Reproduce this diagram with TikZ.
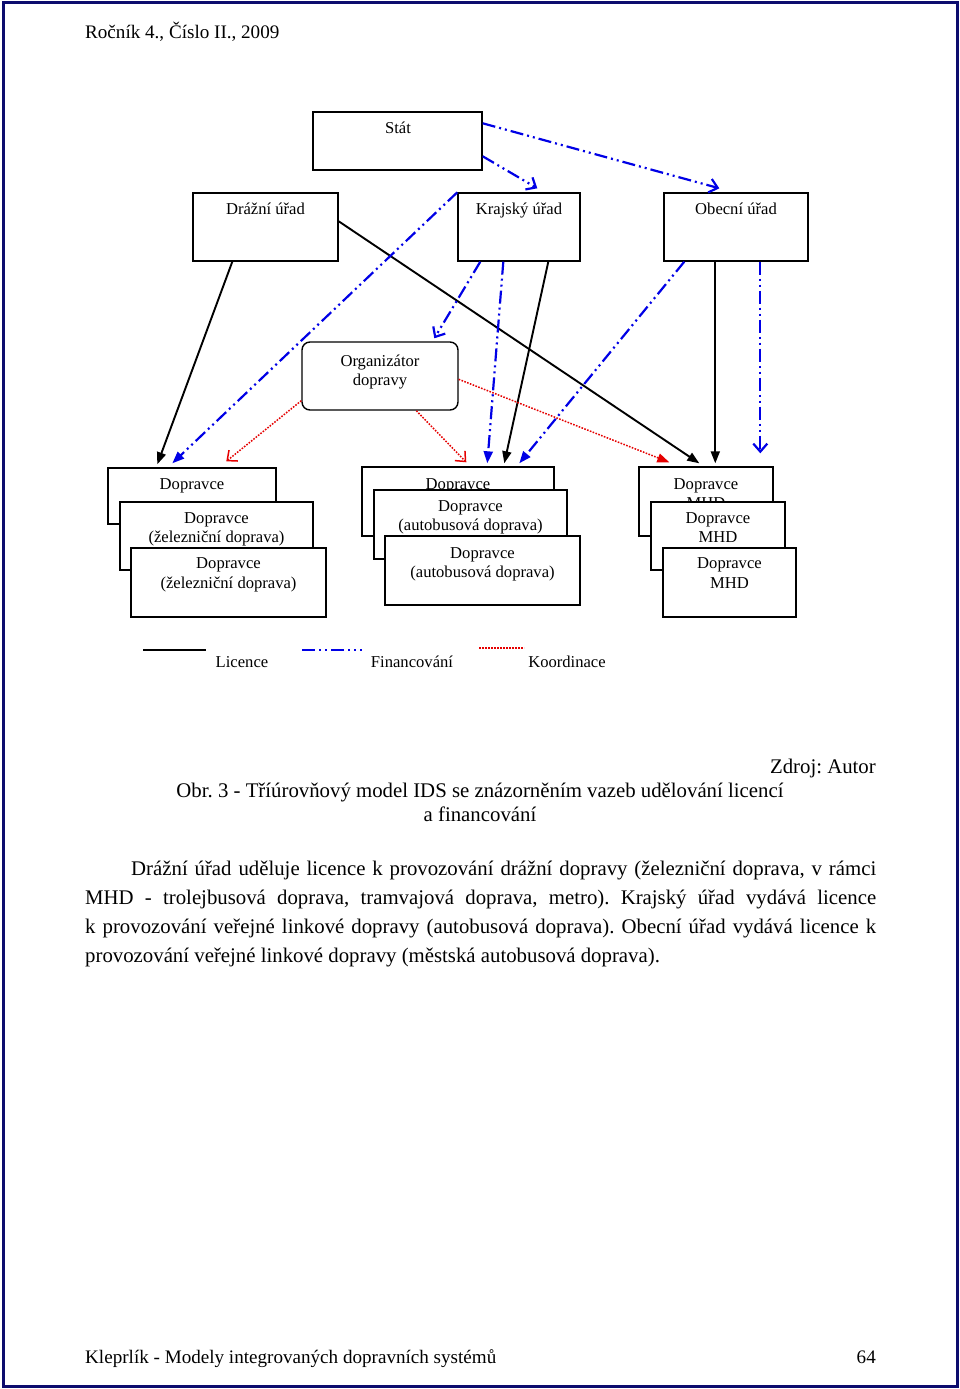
\documentclass[tikz,border=0pt]{standalone}
\usepackage{fontspec}
\setmainfont{Liberation Serif}
\usetikzlibrary{arrows.meta}
\definecolor{navyb}{RGB}{12,12,110}
\definecolor{finblue}{RGB}{0,0,230}
\definecolor{korred}{RGB}{230,0,0}
\frenchspacing
\begin{document}
\begin{tikzpicture}[x=1pt,y=-1pt,
  box/.style={draw=black, line width=1.4pt, fill=white, rectangle, inner sep=0pt},
  lbl/.style={font=\fontsize{16.6}{19}\selectfont, anchor=base, inner sep=0pt},
  page/.style={font=\fontsize{19.1}{22}\selectfont, inner sep=0pt},
  body/.style={font=\fontsize{20.8}{29}\selectfont, inner sep=0pt},
  lic/.style={draw=black, line width=1.9pt},
  licF/.style={lic, -{Triangle[length=12pt,width=9pt]}},
  fin/.style={draw=finblue, line width=2.2pt, dash pattern=on 13pt off 4pt on 2pt off 4pt on 2pt off 4pt},
  finF/.style={fin, -{Triangle[length=12pt,width=9pt]}},
  finO/.style={fin, -{Straight Barb[length=8pt,width=14pt]}},
  kor/.style={draw=korred, line width=1.5pt, dash pattern=on 1.6pt off 1.4pt},
  korF/.style={kor, -{Triangle[length=12pt,width=9pt]}},
  korO/.style={kor, -{Straight Barb[length=8pt,width=14pt]}}]
\useasboundingbox (0,0) rectangle (960,1389);
\fill[white] (0,0) rectangle (960,1389);
\draw[navyb, line width=3pt] (3,3) rectangle (957,1386);

% header / footer
\node[page, anchor=base west] (hdr) at (85,39) {Ročník 4., Číslo II., 2009};
\node[page, anchor=base west] (ftr) at (85,1363) {Kleprlík - Modely integrovaných dopravních systémů};
\node[page, anchor=base east] (pg) at (876,1363) {64};

% top level
\node[box, minimum width=169pt, minimum height=58pt] (stat) at (397.5,141) {};
\node[lbl] (statT) at (398,133) {Stát};
\node[box, minimum width=145pt, minimum height=68pt] (dr) at (265.5,227) {};
\node[lbl] (drT) at (265.5,214) {Drážní úřad};
\node[box, minimum width=122pt, minimum height=68pt] (kr) at (519,227) {};
\node[lbl] (krT) at (519,214) {Krajský úřad};
\node[box, minimum width=144pt, minimum height=68pt] (ob) at (736,227) {};
\node[lbl] (obT) at (736,214) {Obecní úřad};
\node[box, rounded corners=8pt, minimum width=156pt, minimum height=68pt] (org) at (380,376) {};
\node[lbl] (orgT1) at (380,366) {Organizátor};
\node[lbl] (orgT2) at (380,385) {dopravy};

% group 1
\node[box, minimum width=168pt, minimum height=56pt] (g1a) at (192,496) {};
\node[lbl] (g1aT) at (192,489) {Dopravce};
\node[box, minimum width=193pt, minimum height=68pt] (g1b) at (216.5,536) {};
\node[lbl] (g1bT1) at (216.5,523) {Dopravce};
\node[lbl] (g1bT2) at (216.5,542) {(železniční doprava)};
\node[box, minimum width=195pt, minimum height=69pt] (g1c) at (228.5,582.5) {};
\node[lbl] (g1cT1) at (228.5,568) {Dopravce};
\node[lbl] (g1cT2) at (228.5,588) {(železniční doprava)};

% group 2
\node[box, minimum width=192pt, minimum height=69pt] (g2a) at (458,501.5) {};
\node[lbl] (g2aT) at (458,489) {Dopravce};
\node[box, minimum width=193pt, minimum height=69pt] (g2b) at (470.5,524.5) {};
\node[lbl] (g2bT1) at (470.5,511) {Dopravce};
\node[lbl] (g2bT2) at (470.5,530) {(autobusová doprava)};
\node[box, minimum width=195pt, minimum height=69pt] (g2c) at (482.5,570.5) {};
\node[lbl] (g2cT1) at (482.5,558) {Dopravce};
\node[lbl] (g2cT2) at (482.5,577) {(autobusová doprava)};

% group 3
\node[box, minimum width=134pt, minimum height=69pt] (g3a) at (706,501.5) {};
\node[lbl] (g3aT1) at (706,489) {Dopravce};
\node[lbl] (g3aT2) at (706,508) {MHD};
\node[box, minimum width=134pt, minimum height=68pt] (g3b) at (718,536) {};
\node[lbl] (g3bT1) at (718,523) {Dopravce};
\node[lbl] (g3bT2) at (718,542) {MHD};
\node[box, minimum width=133pt, minimum height=69pt] (g3c) at (729.5,582.5) {};
\node[lbl] (g3cT1) at (729.5,568) {Dopravce};
\node[lbl] (g3cT2) at (729.5,588) {MHD};

% Licence
\draw[licF] ([xshift=40pt]dr.south west) -- ([xshift=50pt,yshift=3pt]g1a.north west);
\draw[licF] ([yshift=-29pt]dr.north east) -- ([xshift=61pt,yshift=3pt]g3a.north west);
\draw[licF] ([xshift=91pt]kr.south west) -- ([xshift=143pt,yshift=3pt]g2a.north west);
\draw[licF] ([xshift=52pt]ob.south west) -- ([xshift=77pt,yshift=3pt]g3a.north west);

% Financovani
\draw[finO] ([yshift=-12pt]stat.north east) -- ([xshift=56pt,yshift=4pt]ob.north west);
\draw[finO] ([yshift=-45pt]stat.north east) -- ([xshift=80pt,yshift=4pt]kr.north west);
\draw[finF] (kr.north west) -- ([xshift=65pt,yshift=4pt]g1a.north west);
\draw[finO] ([xshift=23pt]kr.south west) -- ([xshift=133pt,yshift=3pt]org.north west);
\draw[finF] ([xshift=46pt]kr.south west) -- ([xshift=126pt,yshift=3pt]g2a.north west);
\draw[finF] ([xshift=21pt]ob.south west) -- ([xshift=158pt,yshift=3pt]g2a.north west);
\draw[finO] ([xshift=97pt]ob.south west) -- ([xshift=122pt,yshift=13pt]g3a.north west);

% Koordinace
\draw[korO] ([yshift=10pt]org.south west) -- ([xshift=119pt,yshift=6pt]g1a.north west);
\draw[korO] ([xshift=115pt]org.south west) -- ([xshift=105pt,yshift=4pt]g2a.north west);
\draw[korF] ([yshift=-38pt]org.north east) -- ([xshift=31pt,yshift=4pt]g3a.north west);

% legend
\draw[lic] (143,650) -- (206,650);
\node[lbl] (legL) at (242,667) {Licence};
\draw[fin] (302,650) -- (362,650);
\node[lbl] (legF) at (412,667) {Financování};
\draw[kor] (479,648) -- (524,648);
\node[lbl] (legK) at (567,667) {Koordinace};

% caption
\node[body, anchor=base east] (src) at (876,773) {Zdroj: Autor};
\node[body, anchor=base] (cap1) at (480,797) {Obr. 3 - Tříúrovňový model IDS se znázorněním vazeb udělování licencí};
\node[body, anchor=base] (cap2) at (480,821) {a financování};

% body text
\node[body, anchor=base west] (t1) at (131,875) {\makebox[745pt][s]{Drážní úřad uděluje licence k provozování drážní dopravy (železniční doprava, v rámci}};
\node[body, anchor=base west] (t2) at (85,904) {\makebox[791pt][s]{MHD - trolejbusová doprava, tramvajová doprava, metro). Krajský úřad vydává licence}};
\node[body, anchor=base west] (t3) at (85,933) {\makebox[791pt][s]{k provozování veřejné linkové dopravy (autobusová doprava). Obecní úřad vydává licence k}};
\node[body, anchor=base west] (t4) at (85,962) {provozování veřejné linkové dopravy (městská autobusová doprava).};
\end{tikzpicture}
\end{document}
